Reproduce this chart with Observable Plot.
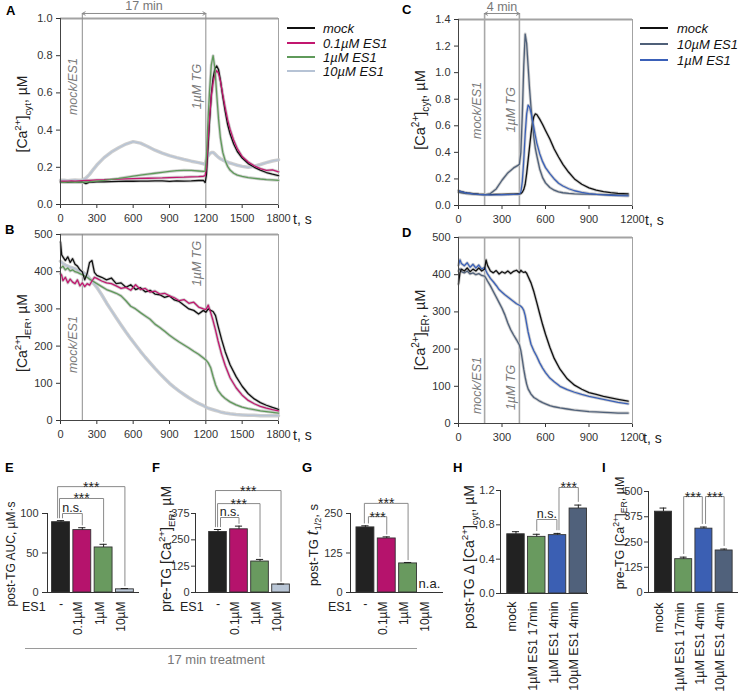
<!DOCTYPE html>
<html><head><meta charset="utf-8">
<script src="https://cdn.jsdelivr.net/npm/d3@7"></script>
<script src="https://cdn.jsdelivr.net/npm/@observablehq/plot@0.6"></script>
<style>
body{margin:0;background:#fff;}
#fig{position:relative;width:739px;height:694px;overflow:hidden;font-family:"Liberation Sans",Arial,Helvetica,sans-serif;color:#222;background:#fff;}
.abs{position:absolute;white-space:nowrap;line-height:1;}
sup,sub{font-size:0.7em;line-height:0;}
</style></head>
<body><div id="fig"></div>
<script>
// ---------- Panel A: cytosolic Ca2+, 17 min treatment ----------
const tA = [0,30,60,90,120,150,180,210,240,270,300,360,420,480,540,600,660,720,780,840,900,960,1020,1080,1140,1180,1195,1205,1215,1230,1245,1260,1275,1290,1305,1320,1340,1360,1380,1400,1430,1460,1500,1550,1600,1650,1700,1750,1800];
const aMock = [0.122,0.12,0.119,0.121,0.12,0.12,0.121,0.112,0.12,0.121,0.122,0.122,0.123,0.124,0.125,0.125,0.126,0.126,0.127,0.127,0.124,0.127,0.126,0.127,0.129,0.13,0.118,0.16,0.27,0.44,0.59,0.68,0.73,0.745,0.725,0.67,0.58,0.5,0.43,0.38,0.325,0.285,0.25,0.22,0.2,0.185,0.172,0.163,0.155];
const a01 = [0.125,0.126,0.125,0.127,0.126,0.127,0.128,0.129,0.13,0.131,0.132,0.133,0.135,0.136,0.138,0.139,0.14,0.141,0.142,0.143,0.145,0.146,0.147,0.149,0.15,0.152,0.155,0.2,0.31,0.46,0.58,0.655,0.7,0.72,0.705,0.665,0.59,0.52,0.455,0.405,0.345,0.3,0.258,0.228,0.208,0.193,0.183,0.186,0.176];
const a1 = [0.12,0.119,0.12,0.12,0.119,0.12,0.12,0.121,0.122,0.124,0.126,0.13,0.135,0.14,0.146,0.152,0.158,0.163,0.168,0.173,0.178,0.182,0.184,0.183,0.18,0.178,0.18,0.26,0.41,0.6,0.75,0.8,0.73,0.59,0.46,0.36,0.28,0.235,0.205,0.185,0.168,0.158,0.151,0.145,0.141,0.137,0.134,0.132,0.13];
const a10 = [0.13,0.131,0.128,0.131,0.132,0.13,0.131,0.142,0.162,0.188,0.212,0.252,0.282,0.305,0.325,0.338,0.33,0.312,0.292,0.276,0.263,0.252,0.242,0.233,0.225,0.219,0.216,0.238,0.258,0.272,0.279,0.28,0.272,0.262,0.253,0.246,0.239,0.233,0.228,0.223,0.217,0.211,0.205,0.2,0.206,0.215,0.225,0.234,0.24];

// ---------- Panel B: ER Ca2+, 17 min treatment ----------
const tB = [0,10,20,40,60,80,100,120,140,160,180,200,220,240,260,280,300,340,380,420,460,500,540,580,620,660,700,740,780,820,860,900,940,980,1020,1060,1100,1140,1180,1200,1220,1240,1260,1280,1300,1330,1360,1400,1450,1500,1550,1600,1650,1700,1750,1800];
const bMock = [480,445,440,430,440,425,435,420,415,405,400,378,395,425,430,398,390,385,378,383,368,370,358,365,352,357,346,350,340,338,331,335,324,320,310,300,296,286,296,291,300,296,293,282,255,218,185,150,118,92,72,58,48,41,35,30];
const b01 = [395,390,376,385,370,380,372,368,378,362,370,360,368,364,375,385,382,375,370,368,362,355,358,350,365,352,355,345,348,340,342,335,330,322,325,315,318,305,300,298,310,290,268,243,215,178,148,115,88,68,54,45,38,33,29,26];
const b1 = [410,412,415,405,410,402,405,400,398,395,392,388,385,380,376,372,368,360,352,347,342,335,322,307,300,290,281,272,259,250,240,229,220,211,203,195,186,178,168,163,155,142,118,96,81,68,59,50,42,36,32,29,26,24,22,20];
const b10 = [428,425,422,418,415,412,410,408,405,402,400,395,390,382,374,366,358,338,316,296,276,257,238,220,203,186,170,155,140,126,113,100,89,79,70,61,53,46,40,36,33,31,29,27,25,22,20,18,16,15,14,14,13,13,13,13];

// ---------- Panel C: cytosolic Ca2+, 4 min treatment ----------
const tC = [0,20,40,60,100,140,180,220,260,300,340,380,410,420,430,440,450,460,470,480,490,500,510,520,530,540,560,580,600,630,660,690,720,760,800,850,900,950,1000,1050,1100,1170];
const cMock = [0.11,0.104,0.099,0.095,0.09,0.086,0.083,0.082,0.083,0.084,0.085,0.086,0.087,0.087,0.09,0.1,0.12,0.16,0.24,0.34,0.44,0.54,0.62,0.67,0.69,0.685,0.65,0.61,0.565,0.5,0.425,0.365,0.31,0.25,0.2,0.16,0.133,0.115,0.104,0.097,0.092,0.088];
const c10 = [0.1,0.096,0.092,0.089,0.085,0.082,0.08,0.09,0.125,0.19,0.245,0.283,0.302,0.31,0.4,0.68,1.05,1.29,1.22,1.05,0.88,0.74,0.62,0.51,0.43,0.375,0.275,0.21,0.17,0.135,0.115,0.103,0.096,0.091,0.088,0.086,0.085,0.083,0.082,0.081,0.08,0.079];
const c1 = [0.11,0.104,0.099,0.094,0.088,0.084,0.081,0.08,0.08,0.081,0.082,0.084,0.085,0.086,0.1,0.18,0.34,0.54,0.69,0.755,0.74,0.7,0.645,0.585,0.525,0.47,0.39,0.33,0.285,0.24,0.2,0.168,0.147,0.126,0.111,0.099,0.09,0.084,0.08,0.077,0.075,0.072];

// ---------- Panel D: ER Ca2+, 4 min treatment ----------
const tD = [0,10,20,40,60,80,100,120,140,160,180,190,200,220,240,260,280,300,320,340,360,380,400,420,430,440,450,460,470,480,500,520,540,560,580,600,630,660,700,750,800,850,900,950,1000,1050,1100,1170];
const dMock = [375,405,415,410,418,408,415,410,418,410,415,440,425,410,405,411,402,408,404,410,403,409,412,405,412,408,406,408,404,395,378,354,325,295,266,240,205,175,146,120,103,92,83,78,73,69,65,60];
const d10 = [410,416,408,405,410,402,405,400,403,398,396,390,383,370,355,340,325,310,292,270,252,238,225,211,196,172,146,124,106,93,79,70,65,60,56,53,48,45,42,39,36,34,32,31,30,29,28,28];
const d1 = [425,440,430,424,432,420,428,418,426,415,420,410,402,390,381,371,360,353,346,340,334,328,322,318,315,311,304,290,268,246,213,195,180,163,149,137,122,112,100,91,84,78,73,69,65,61,57,53];

// ---------- Bar panels ----------
const catsEFG = ["-","0.1µM","1µM","10µM"];
const aucVals = [89,79,57,4];
const aucErr = [2,3,4,1];
const preER17Vals = [287,300,147,38];
const preER17Err = [12,15,10,2];
const t12Vals = [206,171,92,null];
const t12Err = [5,5,3,null];
const naLabel = "n.a.";
const catsHI = ["mock","1µM ES1 17min","1µM ES1 4min","10µM ES1 4min"];
const dCytVals = [0.69,0.66,0.68,0.99];
const dCytErr = [0.03,0.03,0.02,0.04];
const preER4Vals = [400,165,316,208];
const preER4Err = [18,10,8,7];

// Tick labels
const xTicks30 = [0,300,600,900,1200,1500,1800];
const xTicks20 = [0,300,600,900,1200];
const yTicksA = [0,0.2,0.4,0.6,0.8,1.0];
const yTicksC = [0,0.2,0.4,0.6,0.8,1.0,1.2,1.4];
const yTicksER = [0,100,200,300,400,500];
const yTicksE = [0,50,100];
const yTicksF = [0,125,250,375];
const yTicksG = [0,125,250];
const yTicksH = [0,0.4,0.8,1.2];
const yTicksI = [0,125,250,375,500];

// Colours
const COL = {mock:"#111111", es01:"#c2176f", es1g:"#5f9a5a", es10l:"#b6c3d5", es10s:"#4f6079", es1b:"#3a60b8"};
const colEFG = ["#222222","#b5136c","#699a5f","#b9c6d6"];
const colHI = ["#222222","#699a5f","#3b5fb3","#50617b"];

const FONT = '"Liberation Sans", Arial, Helvetica, sans-serif';
const fig = document.getElementById("fig");

function place(svg, left, top) {
  svg.style.position = "absolute";
  svg.style.left = left + "px";
  svg.style.top = top + "px";
  svg.style.maxWidth = "none";
  fig.appendChild(svg);
}

function label(html, x, y, opt = {}) {
  const d = document.createElement("div");
  d.className = "abs";
  d.innerHTML = html;
  d.style.left = x + "px";
  d.style.top = y + "px";
  d.style.fontSize = (opt.size || 12) + "px";
  d.style.color = opt.color || "#222";
  d.style.fontWeight = opt.weight || "normal";
  d.style.fontStyle = opt.style || "normal";
  let tr = opt.anchor === "middle" ? "translate(-50%,-50%)" : opt.anchor === "end" ? "translate(-100%,-50%)" : "translate(0,-50%)";
  if (opt.rotate) tr += " rotate(-90deg)";
  d.style.transform = tr;
  fig.appendChild(d);
}

function linePanel(o) {
  const ml = 45, mr = 12, mt = 22, mb = 26;
  const [L, T, W, H] = o.frame;
  const marks = [];
  marks.push(Plot.frame({stroke: "#a3a3a3"}));
  marks.push(Plot.ruleY([o.yDomain[1]], {stroke: "#a3a3a3", strokeWidth: 2}));
  marks.push(Plot.ruleX(o.events, {y1: o.yDomain[0], y2: o.eventTop, stroke: o.eventColor, strokeWidth: o.eventWidth}));
  const ds = o.series.map(s => o.t.map((tt, i) => ({t: tt, v: s.values[i]})));
  o.series.forEach((s, k) => marks.push(Plot.line(ds[k], {x: "t", y: "v", stroke: "#c6c6c6", strokeWidth: s.halo || 3, strokeOpacity: 0.85})));
  o.series.forEach((s, k) => marks.push(Plot.line(ds[k], {x: "t", y: "v", stroke: s.color, strokeWidth: 1.3})));
  marks.push(Plot.ruleX([o.xDomain[0]], {stroke: "#444"}));
  marks.push(Plot.ruleY([o.yDomain[0]], {stroke: "#444"}));
  marks.push(Plot.text(o.annots, {x: "x", y: "y", text: "label", rotate: -90, dx: o.annotDx, fill: "#7a7a7a", fontStyle: "italic", fontSize: 12.5}));
  if (o.arrow) {
    const a = o.arrow;
    const mid = (a.from + a.to) / 2;
    marks.push(Plot.arrow([a.from, a.to], {x1: mid, x2: d => d, y1: a.y, y2: a.y, stroke: "#8c8c8c", headLength: 5, strokeWidth: 1}));
    marks.push(Plot.text([a.label], {x: mid, y: a.y, text: d => d, dy: -3, lineAnchor: "bottom", fill: "#777", fontSize: 12.5}));
  }
  const svg = Plot.plot({
    width: ml + W + mr, height: mt + H + mb,
    marginLeft: ml, marginRight: mr, marginTop: mt, marginBottom: mb,
    style: {background: "transparent", overflow: "visible", fontFamily: FONT, fontSize: "11px", color: "#333"},
    x: {domain: o.xDomain, ticks: o.xTicks, tickSize: 4, tickPadding: 6, label: null, tickFormat: d3.format("d")},
    y: {domain: o.yDomain, ticks: o.yTicks, tickSize: 4, tickPadding: 4, label: null, tickFormat: o.yFmt},
    marks
  });
  place(svg, L - ml, T - mt);
}

function barPanel(o) {
  const ml = 40, mr = 8, mt = 45, mb = 110;
  const [L, T, W, H] = o.frame;
  const HW = 0.42;
  const ymax = o.yDomain[1];
  const gap = 0.035 * ymax;
  const all = o.cats.map((c, i) => ({i, c, v: o.vals[i], e: o.errs[i], col: o.colors[i]}));
  const data = all.filter(d => d.v != null);
  const marks = [
    Plot.rectY(data, {x1: d => d.i - HW, x2: d => d.i + HW, y: "v", fill: d => d.col, stroke: "#333", strokeWidth: 0.9}),
    Plot.ruleX(data, {x: "i", y1: "v", y2: d => d.v + d.e, stroke: "#222"}),
    Plot.ruleY(data, {y: d => d.v + d.e, x1: d => d.i - 0.17, x2: d => d.i + 0.17, stroke: "#222"}),
    Plot.ruleY([0], {stroke: "#333"}),
    Plot.ruleX([o.xDomain[0]], {y1: 0, y2: ymax, stroke: "#333"}),
    Plot.text(all.filter(d => d.c !== "-"), {x: "i", text: "c", frameAnchor: "bottom", dy: o.labelDy, rotate: -90, textAnchor: "end", fontSize: o.labelSize, fill: "#222"}),
    Plot.text(all.filter(d => d.c === "-"), {x: "i", text: "c", frameAnchor: "bottom", dy: 15, fontSize: 12.5, fill: "#222"})
  ];
  const na = all.filter(d => d.v == null);
  if (na.length) marks.push(Plot.text(na, {x: "i", y: 0, text: () => naLabel, dy: -9, fontSize: 13, fill: "#222"}));
  for (const b of (o.brackets || [])) {
    const top = i => o.vals[i] + o.errs[i] + gap;
    const pts = [
      {x: b.a + b.oa, y: top(b.a)}, {x: b.a + b.oa, y: b.level},
      {x: b.b + b.ob, y: b.level}, {x: b.b + b.ob, y: top(b.b)}
    ];
    marks.push(Plot.line(pts, {x: "x", y: "y", stroke: "#8a8a8a", strokeWidth: 1}));
    const stars = b.label === "***";
    marks.push(Plot.text([b], {x: (b.a + b.oa + b.b + b.ob) / 2, y: b.level, text: "label", lineAnchor: "bottom", dy: stars ? 5 : -2, fontSize: stars ? 14 : 12.5, fill: "#222"}));
  }
  const svg = Plot.plot({
    width: ml + W + mr, height: mt + H + mb,
    marginLeft: ml, marginRight: mr, marginTop: mt, marginBottom: mb,
    style: {background: "transparent", overflow: "visible", fontFamily: FONT, fontSize: "11px", color: "#333"},
    x: {domain: o.xDomain, axis: null},
    y: {domain: o.yDomain, ticks: o.yTicks, tickSize: o.tickSize, tickPadding: o.tickPadding, label: null, tickFormat: o.yFmt},
    marks
  });
  place(svg, L - ml, T - mt);
}

const f1 = d3.format(".1f");

// Panel A
linePanel({
  frame: [60, 18, 218, 186], t: tA, xDomain: [0, 1800], xTicks: xTicks30, yDomain: [0, 1], yTicks: yTicksA, yFmt: f1,
  events: [180, 1200], eventTop: 1.027, eventColor: "#8c8c8c", eventWidth: 1,
  series: [{values: a10, color: COL.es10l, halo: 3.5}, {values: aMock, color: COL.mock}, {values: a01, color: COL.es01}, {values: a1, color: COL.es1g}],
  annots: [{x: 180, y: 0.634, label: "mock/ES1"}, {x: 1200, y: 0.634, label: "1µM TG"}], annotDx: -9,
  arrow: {from: 180, to: 1200, y: 1.027, label: "17 min"}
});
// Panel B
linePanel({
  frame: [60, 234, 218, 186], t: tB, xDomain: [0, 1800], xTicks: xTicks30, yDomain: [0, 500], yTicks: yTicksER, yFmt: d3.format("d"),
  events: [180, 1200], eventTop: 500, eventColor: "#8c8c8c", eventWidth: 1,
  series: [{values: b10, color: COL.es10l, halo: 3.5}, {values: b1, color: COL.es1g}, {values: bMock, color: COL.mock}, {values: b01, color: COL.es01}],
  annots: [{x: 180, y: 204, label: "mock/ES1"}, {x: 1200, y: 422, label: "1µM TG"}], annotDx: -9
});
// Panel C
linePanel({
  frame: [458, 19, 174, 186], t: tC, xDomain: [0, 1200], xTicks: xTicks20, yDomain: [0, 1.4], yTicks: yTicksC, yFmt: f1,
  events: [180, 420], eventTop: 1.445, eventColor: "#a8a8a8", eventWidth: 1.6,
  series: [{values: cMock, color: COL.mock}, {values: c10, color: COL.es10s}, {values: c1, color: COL.es1b}],
  annots: [{x: 180, y: 0.715, label: "mock/ES1"}, {x: 420, y: 0.72, label: "1µM TG"}], annotDx: -8,
  arrow: {from: 180, to: 420, y: 1.445, label: "4 min"}
});
// Panel D
linePanel({
  frame: [458, 237, 174, 186], t: tD, xDomain: [0, 1200], xTicks: xTicks20, yDomain: [0, 500], yTicks: yTicksER, yFmt: d3.format("d"),
  events: [180, 420], eventTop: 500, eventColor: "#a8a8a8", eventWidth: 1.6,
  series: [{values: d10, color: COL.es10s}, {values: d1, color: COL.es1b}, {values: dMock, color: COL.mock}],
  annots: [{x: 180, y: 102, label: "mock/ES1"}, {x: 420, y: 97, label: "1µM TG"}], annotDx: -8
});

// Panel E
barPanel({
  frame: [47, 513, 92, 79], cats: catsEFG, vals: aucVals, errs: aucErr, colors: colEFG,
  xDomain: [-0.634, 3.685], yDomain: [0, 100], yTicks: yTicksE, yFmt: d3.format("d"), tickSize: 5, tickPadding: 4,
  labelDy: 9, labelSize: 12,
  brackets: [
    {a: 0, oa: -0.16, b: 3, ob: 0, level: 134, label: "***"},
    {a: 0, oa: -0.07, b: 2, ob: 0, level: 119, label: "***"},
    {a: 0, oa: 0.07, b: 1, ob: 0, level: 100, label: "n.s."}
  ]
});
// Panel F
barPanel({
  frame: [195, 513, 95, 79], cats: catsEFG, vals: preER17Vals, errs: preER17Err, colors: colEFG,
  xDomain: [-1.07, 3.45], yDomain: [0, 375], yTicks: yTicksF, yFmt: d3.format("d"), tickSize: 4, tickPadding: 2,
  labelDy: 9, labelSize: 12,
  brackets: [
    {a: 0, oa: -0.12, b: 3, ob: 0, level: 484, label: "***"},
    {a: 0, oa: -0.02, b: 2, ob: 0, level: 422, label: "***"},
    {a: 0, oa: 0.12, b: 1, ob: 0, level: 356, label: "n.s."}
  ]
});
// Panel G
barPanel({
  frame: [350, 513, 93, 79], cats: catsEFG, vals: t12Vals, errs: t12Err, colors: colEFG,
  xDomain: [-0.70, 3.66], yDomain: [0, 250], yTicks: yTicksG, yFmt: d3.format("d"), tickSize: 4, tickPadding: 4,
  labelDy: 9, labelSize: 12,
  brackets: [
    {a: 0, oa: -0.05, b: 2, ob: 0, level: 282, label: "***"},
    {a: 0, oa: 0.14, b: 1, ob: 0, level: 240, label: "***"}
  ]
});
// Panel H
barPanel({
  frame: [500, 490, 88, 103], cats: catsHI, vals: dCytVals, errs: dCytErr, colors: colHI,
  xDomain: [-0.745, 3.49], yDomain: [0, 1.2], yTicks: yTicksH, yFmt: f1, tickSize: 4, tickPadding: 2,
  labelDy: 8, labelSize: 12.5,
  brackets: [
    {a: 1, oa: 0, b: 2, ob: -0.03, level: 0.862, label: "n.s."},
    {a: 2, oa: 0.07, b: 3, ob: 0, level: 1.235, label: "***"}
  ]
});
// Panel I
barPanel({
  frame: [648, 491, 90, 101], cats: catsHI, vals: preER4Vals, errs: preER4Err, colors: colHI,
  xDomain: [-0.74, 3.71], yDomain: [0, 500], yTicks: yTicksI, yFmt: d3.format("d"), tickSize: 4, tickPadding: 2,
  labelDy: 10, labelSize: 12.5,
  brackets: [
    {a: 1, oa: 0, b: 2, ob: -0.08, level: 475, label: "***"},
    {a: 2, oa: 0.08, b: 3, ob: 0, level: 475, label: "***"}
  ]
});

// ---------- Legends ----------
function legend(items, lx1, lx2, tx, ys) {
  items.forEach((it, k) => {
    const ln = document.createElement("div");
    ln.className = "abs";
    Object.assign(ln.style, {left: lx1 + "px", top: (ys[k] - 1) + "px", width: (lx2 - lx1) + "px", height: "2px", background: it.color});
    fig.appendChild(ln);
    label(it.name, tx, ys[k], {size: 13, style: "italic", color: "#111"});
  });
}
legend([{name: "mock", color: COL.mock}, {name: "0.1µM ES1", color: COL.es01}, {name: "1µM ES1", color: COL.es1g}, {name: "10µM ES1", color: COL.es10l}], 287, 315, 323, [28, 42.5, 57, 71]);
legend([{name: "mock", color: COL.mock}, {name: "10µM ES1", color: COL.es10s}, {name: "1µM ES1", color: COL.es1b}], 640, 668, 677, [28, 44, 60]);

// ---------- Panel letters ----------
[["A", 6, 10], ["B", 5, 229], ["C", 402, 9], ["D", 402, 232], ["E", 5, 467], ["F", 152, 467], ["G", 302, 467], ["H", 453, 467], ["I", 602, 467]]
  .forEach(([t, x, y]) => label(t, x, y, {size: 13, weight: "bold", color: "#000"}));

// ---------- Axis titles ----------
label("t, s", 293, 219, {size: 14});
label("t, s", 293, 435, {size: 14});
label("t, s", 645, 220, {size: 14});
label("t, s", 643, 438, {size: 14});
label("[Ca<sup>2+</sup>]<sub>cyt</sub>, µM", 22, 114, {size: 14, anchor: "middle", rotate: true});
label("[Ca<sup>2+</sup>]<sub>ER</sub>, µM", 22, 333, {size: 14, anchor: "middle", rotate: true});
label("[Ca<sup>2+</sup>]<sub>cyt</sub>, µM", 420, 110, {size: 14.5, anchor: "middle", rotate: true});
label("[Ca<sup>2+</sup>]<sub>ER</sub>, µM", 420, 330, {size: 14.5, anchor: "middle", rotate: true});
label("post-TG AUC, µM·s", 11, 554, {size: 12, anchor: "middle", rotate: true});
label("pre-TG [Ca<sup>2+</sup>]<sub>ER</sub>, µM", 166, 549, {size: 14, anchor: "middle", rotate: true});
label("post-TG <i style=\"font-family:'Liberation Serif',serif;font-size:1.45em\">t</i><sub>1/2</sub>, s", 312, 545, {size: 13, anchor: "middle", rotate: true});
label("post-TG Δ [Ca<sup>2+</sup>]<sub>cyt</sub>, µM", 469, 557, {size: 14, anchor: "middle", rotate: true});
label("pre-TG [Ca<sup>2+</sup>]<sub>ER</sub>, µM", 620, 533, {size: 12.5, anchor: "middle", rotate: true});
label("ES1", 22, 607, {size: 12.5});
label("ES1", 180, 607, {size: 12.5});
label("ES1", 328, 607, {size: 12.5});

// 17 min treatment bracket line
const tl = document.createElement("div");
tl.className = "abs";
Object.assign(tl.style, {left: "25px", top: "648px", width: "392px", height: "1px", background: "#9a9a9a"});
fig.appendChild(tl);
label("17 min treatment", 216, 659, {size: 13, anchor: "middle", color: "#777"});
</script>
</body></html>
